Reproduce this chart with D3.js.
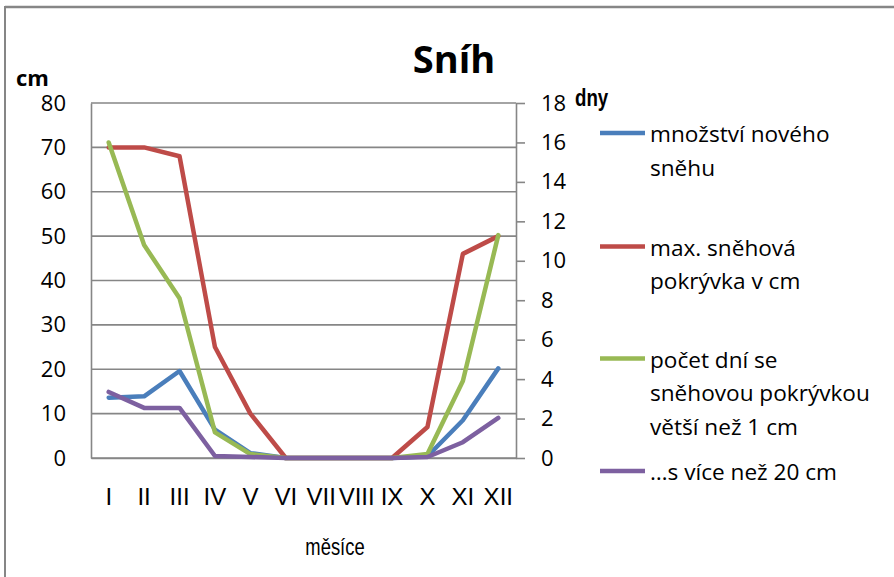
<!DOCTYPE html>
<html>
<head>
<meta charset="utf-8">
<script src="https://cdn.jsdelivr.net/npm/d3@7/dist/d3.min.js"></script>
<style>
  html, body { margin: 0; padding: 0; background: #fff; }
  svg { display: block; }
</style>
</head>
<body>
<svg id="chart" width="894" height="577"></svg>
<script>
// Months (Roman numerals)
const months = ["I", "II", "III", "IV", "V", "VI", "VII", "VIII", "IX", "X", "XI", "XII"];

// Left axis (cm)
const newSnow  = [13.6, 13.9, 19.6, 6.4, 1.1, 0, 0, 0, 0, 0.4, 8.5, 20.2];
const maxCover = [70, 70, 68, 25, 10, 0, 0, 0, 0, 7, 46, 50];

// Right axis (days)
const daysOver1  = [16, 10.8, 8.1, 1.3, 0.2, 0, 0, 0, 0, 0.2, 3.9, 11.3];
const daysOver20 = [3.35, 2.54, 2.54, 0.1, 0.05, 0, 0, 0, 0, 0.05, 0.8, 2.03];

const leftTicks  = [0, 10, 20, 30, 40, 50, 60, 70, 80];
const rightTicks = [0, 2, 4, 6, 8, 10, 12, 14, 16, 18];

const series = [
  { name: ["množství nového", "sněhu"], values: newSnow, axis: "left", color: "#4A7EBB" },
  { name: ["max. sněhová", "pokrývka v cm"], values: maxCover, axis: "left", color: "#BE4B48" },
  { name: ["počet dní se", "sněhovou pokrývkou", "větší než 1 cm"], values: daysOver1, axis: "right", color: "#98B954" },
  { name: ["…s více než 20 cm"], values: daysOver20, axis: "right", color: "#7D60A0" }
];

const svg = d3.select("#chart");
const plot = { left: 91, right: 516, top: 103, bottom: 458 };
const gridColor = "#868686";

// Outer frame (only top and left edges are visible)
svg.append("line").attr("x1", 5).attr("x2", 894).attr("y1", 7).attr("y2", 7)
  .attr("stroke", gridColor).attr("stroke-width", 2.5);
svg.append("line").attr("x1", 5).attr("x2", 5).attr("y1", 6).attr("y2", 577)
  .attr("stroke", gridColor).attr("stroke-width", 2);

const x = d3.scaleBand().domain(months).range([plot.left, plot.right]);
const yL = d3.scaleLinear().domain([0, 80]).range([plot.bottom, plot.top]);
const yR = d3.scaleLinear().domain([0, 18]).range([plot.bottom, plot.top]);

// Horizontal gridlines for the left axis
svg.append("g").selectAll("line").data(leftTicks).join("line")
  .attr("x1", plot.left).attr("x2", plot.right)
  .attr("y1", d => yL(d)).attr("y2", d => yL(d))
  .attr("stroke", gridColor).attr("stroke-width", 1.6);

// Left axis
const gL = svg.append("g").attr("transform", `translate(${plot.left},0)`)
  .call(d3.axisLeft(yL).tickValues(leftTicks).tickSize(0).tickPadding(25));
gL.select(".domain").attr("stroke", gridColor).attr("stroke-width", 1.6);
gL.selectAll("text").attr("font-family", "'Open Sans'").attr("font-size", 22).attr("fill", "#000");

// Right axis
const gR = svg.append("g").attr("transform", `translate(${plot.right},0)`)
  .call(d3.axisRight(yR).tickValues(rightTicks).tickSize(9).tickSizeOuter(0).tickPadding(16));
gR.select(".domain").attr("stroke", gridColor).attr("stroke-width", 1.6);
gR.selectAll(".tick line").attr("stroke", gridColor).attr("stroke-width", 1.6);
gR.selectAll("text").attr("font-family", "'Open Sans'").attr("font-size", 22).attr("fill", "#000");

// Bottom axis (category labels)
const gB = svg.append("g").attr("transform", `translate(0,${plot.bottom})`)
  .call(d3.axisBottom(x).tickSize(0).tickPadding(30));
gB.select(".domain").attr("stroke", gridColor).attr("stroke-width", 1.6);
gB.selectAll("text").attr("font-family", "'Liberation Sans'").attr("font-size", 24).attr("fill", "#000");

// Series lines
const lineFor = s => d3.line()
  .x((d, i) => x(months[i]) + x.bandwidth() / 2)
  .y(d => (s.axis === "left" ? yL(d) : yR(d)));

svg.append("g").selectAll("path").data(series).join("path")
  .attr("d", s => lineFor(s)(s.values))
  .attr("fill", "none")
  .attr("stroke", s => s.color)
  .attr("stroke-width", 4.5)
  .attr("stroke-linejoin", "round")
  .attr("stroke-linecap", "round");

// Title and axis titles
svg.append("text").attr("x", 454).attr("y", 73).attr("text-anchor", "middle")
  .attr("font-family", "'Open Sans'").attr("font-weight", "bold").attr("font-size", 38)
  .text("Sníh");
svg.append("text").attr("x", 16).attr("y", 86)
  .attr("font-family", "'Open Sans'").attr("font-weight", "bold").attr("font-size", 22)
  .text("cm");
svg.append("text").attr("transform", "translate(575,106) scale(0.78,1)")
  .attr("font-family", "'Liberation Sans'").attr("font-weight", "bold").attr("font-size", 24)
  .text("dny");
svg.append("text").attr("transform", "translate(335,555) scale(0.8,1)").attr("text-anchor", "middle")
  .attr("font-family", "'Liberation Sans'").attr("font-size", 23)
  .text("měsíce");

// Legend
const legendY = [133, 246.5, 358.5, 471];
const lg = svg.append("g").selectAll("g").data(series).join("g")
  .attr("transform", (d, i) => `translate(600,${legendY[i]})`);
lg.append("line").attr("x1", 0).attr("x2", 45).attr("y1", 0).attr("y2", 0)
  .attr("stroke", d => d.color).attr("stroke-width", 4.5);
lg.append("text")
  .attr("font-family", "'Open Sans'").attr("font-size", 22.6).attr("fill", "#000")
  .selectAll("tspan").data(d => d.name).join("tspan")
  .attr("x", 50).attr("y", (d, i) => 9 + i * 33.7)
  .text(d => d);
</script>
</body>
</html>
